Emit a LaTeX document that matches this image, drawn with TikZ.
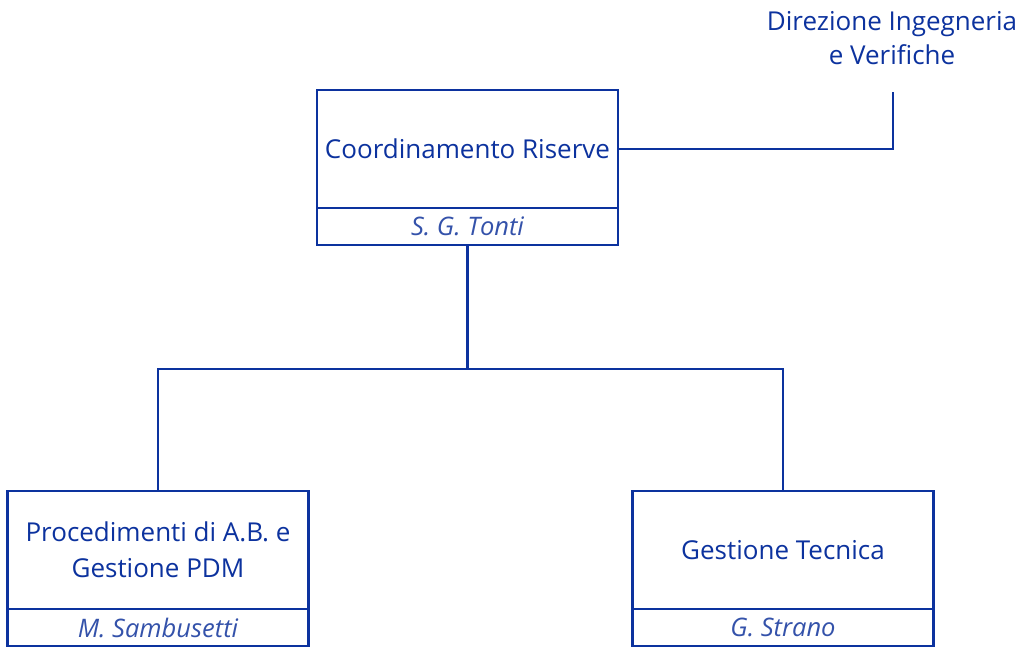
\documentclass[tikz,border=0pt]{standalone}
\usepackage{fontspec}
\setmainfont{Open Sans}
\usepackage{tikz}
\usetikzlibrary{positioning,calc}
\definecolor{orgblue}{RGB}{12,50,158}
\definecolor{nameblue}{RGB}{52,82,170}
\tikzstyle{unitbox} = [rectangle, draw=orgblue, line width=2.8pt, text=orgblue, align=center, minimum width=301pt, minimum height=118pt, inner sep=0pt, outer sep=0pt, font=\fontsize{26}{36}\selectfont]
\tikzstyle{namebox} = [rectangle, draw=orgblue, line width=2.8pt, text=nameblue, minimum width=301pt, minimum height=37pt, inner sep=0pt, outer sep=0pt, font=\fontsize{25.5}{30}\selectfont\itshape]
\tikzstyle{link} = [draw=orgblue, line width=2.8pt]

\begin{document}
\begin{tikzpicture}[x=1pt, y=-1pt]
    \useasboundingbox (0,0) rectangle (1018,648);
    % top unit
    \node[unitbox] (cr) at (467.5,149) {Coordinamento Riserve};
    \node[namebox, below=0pt of cr] (crname) {S. G. Tonti};
    % director
    \node[text=orgblue, align=center, font=\fontsize{26}{34}\selectfont] (dir) at (892,38) {Direzione Ingegneria\\e Verifiche};
    \coordinate (dirlink) at (893,92);
    % lower units
    \node[unitbox] (pa) at (158,550) {Procedimenti di A.B. e\\Gestione PDM};
    \node[namebox, below=0pt of pa] (paname) {M. Sambusetti};
    \node[unitbox] (gt) at (783,550) {Gestione Tecnica};
    \node[namebox, below=0pt of gt] (gtname) {G. Strano};
    % connectors
    \draw[link] (cr.east) -| (dirlink);
    \draw[link] (crname.south) -- ++(0,124) coordinate (fork);
    \draw[link] (fork) -| (pa.north);
    \draw[link] (fork) -| (gt.north);
\end{tikzpicture}
\end{document}
